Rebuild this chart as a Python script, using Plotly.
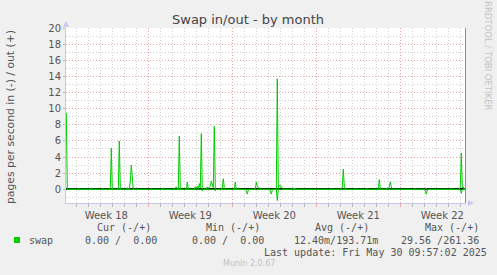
import pandas as pd
import plotly.graph_objects as go

# ---------------- data (2-hour samples, hours since Mon 2025-04-28 00:00) -------------
t0 = pd.Timestamp("2025-04-28 00:00")

out_hours = [4, 6, 28, 30, 32, 52, 54, 56, 76, 78, 80, 92, 94, 96, 108, 110, 112,
             124, 126, 128, 130, 132, 134, 136, 138, 172, 174, 176, 196, 198, 200,
             216, 218, 220, 222, 224, 226, 228, 230, 232, 244, 246, 248,
             260, 262, 264, 266, 268, 270, 272, 274, 276,
             284, 286, 288, 290, 292, 294, 296, 298, 300, 302,
             312, 314, 316, 318, 320, 322, 340, 342, 344,
             382, 384, 386, 388, 390, 392, 424, 426, 428, 430, 432, 434, 436, 438,
             454, 456, 458, 460, 462, 464, 532, 534, 536,
             550, 552, 554, 556, 558, 560, 562, 580, 582, 584, 604, 606, 608,
             628, 630, 632, 634, 644, 646, 648, 650, 652, 654, 656,
             700, 702, 704, 720, 722, 724, 726, 772, 774, 776,
             790, 792, 794, 796, 798, 800, 802]
out_vals = [9.5, 0, 0, 0.1, 0, 0, 0.2, 0, 0, 0.1, 0, 0, 5.1, 0, 0, 6.0, 0,
            0, 0.2, 0, 0, 1.0, 3.0, 0.6, 0, 0, 0.1, 0, 0, 0.2, 0,
            0, 0.1, 0, 0.1, 0.3, 0, 0, 6.6, 0, 0, 0.9, 0,
            0, 0.3, 0.1, 0.4, 0.1, 0.7, 0.2, 6.9, 0,
            0, 0.3, 0.1, 0.2, 0.4, 1.0, 0.4, 0.2, 7.8, 0,
            0, 0.1, 0.1, 1.3, 0.2, 0, 0, 0.9, 0,
            0, 0.9, 0.4, 0.2, 0.2, 0, 0, 13.7, 0.1, 0.5, 0.5, 0.2, 0.2, 0,
            0, 0.2, 0.1, 0.1, 0.1, 0, 0, 0.1, 0,
            0, 0.1, 0.1, 0.2, 2.5, 0.3, 0, 0, 0.1, 0, 0, 0.1, 0,
            0, 1.2, 0.1, 0, 0, 0.2, 0.1, 0.3, 0.9, 0.3, 0,
            0, 0.1, 0, 0, 0.1, 0.1, 0, 0, 0.1, 0,
            0, 0.3, 4.5, 0.2, 0.3, 0, 0]

in_hours = [4, 272, 274, 276, 278, 298, 300, 302, 304,
            362, 364, 366, 368, 370, 410, 412, 414, 416, 418,
            424, 426, 428, 720, 722, 724, 726, 728, 792, 794, 796, 802]
in_vals = [0, 0, 0, -0.2, 0, 0, 0, -0.2, 0,
           0, -0.2, -0.6, -0.1, 0, 0, -0.2, -0.6, -0.1, 0,
           0, -1.4, 0, 0, -0.2, -0.6, -0.1, 0, 0, -0.5, 0, 0]

y_range = [-1.7, 20]
x_start = t0 + pd.Timedelta(hours=3.4)
x_end = x_start + pd.Timedelta(hours=800)

title = "Swap in/out - by month"
y_title = "pages per second in (-) / out (+)"
legend_head = ["Cur (-/+)", "Min (-/+)", "Avg (-/+)", "Max (-/+)"]
legend_vals = ["0.00 /  0.00", "0.00 /  0.00", "12.40m/193.71m", "29.56 /261.36"]
series_name = "swap"
last_update = "Last update: Fri May 30 09:57:02 2025"
version = "Munin 2.0.67"
watermark = "RRDTOOL / TOBI OETIKER"

# ---------------- figure -------------------------------------------------------------
GREEN = "#00cc00"
W, H = 497, 275
ML, MR, MT, MB = 66, 31, 28, 72
PW, PH = W - ML - MR, H - MT - MB


def px(x):
    return (x - ML) / PW


def py(y):
    return (H - MB - y) / PH


out_x = [t0 + pd.Timedelta(hours=h) for h in out_hours]
in_x = [t0 + pd.Timedelta(hours=h) for h in in_hours]

fig = go.Figure()
fig.add_trace(go.Scatter(x=out_x, y=out_vals, mode="lines",
                         line=dict(color=GREEN, width=1), hoverinfo="skip"))
fig.add_trace(go.Scatter(x=in_x, y=in_vals, mode="lines",
                         line=dict(color=GREEN, width=1), hoverinfo="skip"))

RED_GRID = "#eaa3a3"
GRAY_GRID = "#cfcfcf"
AXIS = "#c8c8f0"
TXT = "#555555"

fig.update_layout(
    width=W, height=H,
    margin=dict(l=ML, r=MR, t=MT, b=MB, pad=0),
    paper_bgcolor="#f0f0f0", plot_bgcolor="#ffffff",
    showlegend=False,
    font=dict(family="DejaVu Sans", size=10, color=TXT),
    title=dict(text=title, x=248 / W, xanchor="center", y=1 - 19 / H, yanchor="middle",
               font=dict(family="DejaVu Sans", size=13, color="#444444")),
)
fig.update_xaxes(
    type="date", range=[x_start, x_end],
    tick0="2025-04-28", dtick=7 * 86400000,
    ticklabelmode="period", tickformat="Week %V",
    showgrid=True, gridcolor=RED_GRID, griddash="1px,2px", gridwidth=1,
    ticks="outside", ticklen=3, tickcolor=RED_GRID,
    showline=True, linecolor=AXIS, linewidth=1,
    zeroline=False,
    tickfont=dict(family="DejaVu Sans", size=10, color=TXT),
    minor=dict(dtick=86400000, tick0="2025-04-28", showgrid=True, gridcolor=GRAY_GRID,
               griddash="1px,2px", gridwidth=1, ticks="outside", ticklen=3,
               tickcolor="#bbbbbb"),
)
fig.update_yaxes(
    range=y_range, tick0=0, dtick=2,
    showgrid=True, gridcolor=RED_GRID, griddash="1px,2px", gridwidth=1,
    ticks="outside", ticklen=2, tickcolor=RED_GRID,
    showline=True, linecolor=AXIS, linewidth=1,
    zeroline=True, zerolinecolor="#000000", zerolinewidth=1.5,
    tickfont=dict(family="DejaVu Sans", size=10, color=TXT),
    minor=dict(dtick=1, tick0=0, showgrid=True, gridcolor=GRAY_GRID,
               griddash="1px,2px", gridwidth=1),
)

shapes = []
# arrow on top of the y axis
shapes.append(dict(type="path", xref="paper", yref="paper",
                   path=f"M {px(66)} {py(21)} L {px(63)} {py(27)} L {px(69)} {py(27)} Z",
                   fillcolor=AXIS, line=dict(width=0)))
# arrow at right end of the x axis
shapes.append(dict(type="path", xref="paper", yref="paper",
                   path=f"M {px(474)} {py(203)} L {px(468)} {py(200)} L {px(468)} {py(206)} Z",
                   fillcolor=AXIS, line=dict(width=0)))
# right border line
shapes.append(dict(type="line", xref="paper", yref="paper",
                   x0=px(465.5), x1=px(465.5), y0=0, y1=1,
                   line=dict(color="#909090", width=1)))
# legend colour box
shapes.append(dict(type="rect", xref="paper", yref="paper",
                   x0=px(14), x1=px(20), y0=py(243), y1=py(237),
                   fillcolor=GREEN, line=dict(width=0)))
fig.update_layout(shapes=shapes)

ann = []


def txt(s, x, y, size=10, color=TXT, family="DejaVu Sans Mono", xanchor="left", angle=0):
    ann.append(dict(text=s.replace(" ", "\u00a0"), x=px(x), y=py(y), xref="paper", yref="paper",
                    xanchor=xanchor, yanchor="middle", showarrow=False, textangle=angle,
                    font=dict(family=family, size=size, color=color)))


txt(y_title, 10, 117, size=10.8, family="DejaVu Sans", xanchor="center", angle=-90)
txt(watermark, 488, 56, size=8.5, color="#c4c4c4", family="DejaVu Sans", xanchor="center", angle=90)
for s, x in zip(legend_head, [95, 204, 313, 423]):
    txt(s, x, 227)
txt(series_name, 27, 240)
for s, x in zip(legend_vals, [83, 190, 291.5, 398.5]):
    txt(s, x, 240)
txt(last_update, 261.5, 252)
txt(version, 248.5, 263.5, size=8, color="#c0c0c0", family="DejaVu Sans", xanchor="center")
fig.update_layout(annotations=ann)

fig.write_html("out.html")
